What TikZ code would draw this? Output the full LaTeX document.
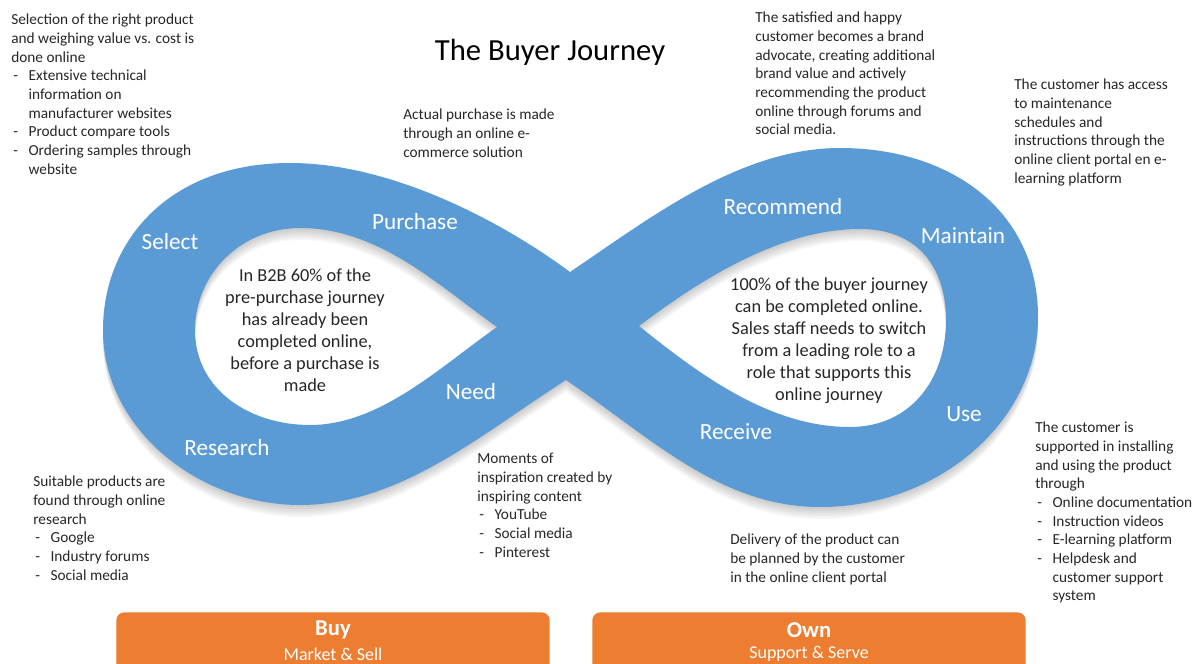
\documentclass[tikz,border=0pt]{standalone}
\usepackage{fontspec}
\setmainfont{Carlito}

\definecolor{loopblue}{HTML}{5B9BD5}
\definecolor{phaseorange}{HTML}{ED7D31}
\definecolor{notegray}{HTML}{262626}

% dash bullets of the side notes
\newcommand{\dashitem}{\makebox[13pt][l]{\hspace{1.5pt}-}}
\newcommand{\dashgap}{\hspace*{13pt}}

% the figure-eight band, in pixel units
\newcommand{\infinitypath}{
  (570,272) .. controls (500,220) and (390,163) .. (290,163)
  .. controls (170,163) and (103,240) .. (103,330)
  .. controls (103,430) and (200,505) .. (300,505)
  .. controls (400,505) and (480,435) .. (566,380)
  .. controls (650,437) and (720,507) .. (820,507)
  .. controls (940,507) and (1038,420) .. (1038,317)
  .. controls (1038,210) and (950,148) .. (840,148)
  .. controls (740,148) and (650,218) .. (570,272) -- cycle
  (497,327) .. controls (440,287) and (380,228) .. (300,228)
  .. controls (240,228) and (195,275) .. (195,330)
  .. controls (195,390) and (250,425) .. (310,425)
  .. controls (380,425) and (440,367) .. (497,327) -- cycle
  (639,326) .. controls (700,280) and (780,229) .. (860,229)
  .. controls (920,229) and (946,270) .. (946,320)
  .. controls (946,380) and (910,427) .. (850,427)
  .. controls (770,427) and (700,375) .. (639,326) -- cycle
}

\tikzset{
  note/.style={anchor=north west, inner sep=0pt, align=left, text=notegray,
    font=\fontsize{11.5}{14}\selectfont},
  stage/.style={text=white, inner sep=0pt, font=\fontsize{17.4}{20}\selectfont},
  insight/.style={anchor=north, inner sep=0pt, align=center, text=notegray,
    font=\fontsize{13.75}{16.5}\selectfont},
  phasebox/.style={fill=phaseorange, rounded corners=6pt, inner sep=0pt,
    minimum width=325pt, minimum height=58pt},
  phasehead/.style={text=white, inner sep=0pt, font=\bfseries\fontsize{17}{20}\selectfont},
  phasesub/.style={text=white, inner sep=0pt, font=\fontsize{13.5}{16}\selectfont}
}

\begin{document}
\begin{tikzpicture}[x=0.75pt, y=-0.75pt]
    \useasboundingbox (0,0) rectangle (1200,664);

    % Title
    \node[font=\fontsize{23}{28}\selectfont] (title) at (550,52) {The Buyer Journey};

    % Soft shadow under the loop
    \foreach \s in {1.5,3,...,9} {
      \fill[black, opacity=0.035, even odd rule, yshift=-\s pt] \infinitypath;
    }
    % The loop itself
    \fill[loopblue, even odd rule] \infinitypath;

    % Stage labels on the band
    \node[stage] (select)    at (170,242) {Select};
    \node[stage] (purchase)  at (415,222) {Purchase};
    \node[stage] (need)      at (471,392) {Need};
    \node[stage] (research)  at (227,448) {Research};
    \node[stage] (recommend) at (783,207) {Recommend};
    \node[stage] (maintain)  at (963,236) {Maintain};
    \node[stage] (use)       at (964,414) {Use};
    \node[stage] (receive)   at (736,432) {Receive};

    % Texts inside the two holes
    \node[insight] (insightbuy) at (305,268) {In B2B 60\% of the\\pre-purchase journey\\has already been\\completed online,\\before a purchase is\\made};
    \node[insight] (insightown) at (829,277) {100\% of the buyer journey\\can be completed online.\\Sales staff needs to switch\\from a leading role to a\\role that supports this\\online journey};

    % Notes round the loop
    \node[note] (noteselect) at (11,14) {Selection of the right product\\and weighing value vs. cost is\\done online\\\dashitem Extensive technical\\\dashgap information on\\\dashgap manufacturer websites\\\dashitem Product compare tools\\\dashitem Ordering samples through\\\dashgap website};
    \node[note] (notepurchase) at (403,109) {Actual purchase is made\\through an online e-\\commerce solution};
    \node[note] (noterecommend) at (755,12) {The satisfied and happy\\customer becomes a brand\\advocate, creating additional\\brand value and actively\\recommending the product\\online through forums and\\social media.};
    \node[note] (notemaintain) at (1014,79) {The customer has access\\to maintenance\\schedules and\\instructions through the\\online client portal en e-\\learning platform};
    \node[note] (noteresearch) at (33,476) {Suitable products are\\found through online\\research\\\dashitem Google\\\dashitem Industry forums\\\dashitem Social media};
    \node[note] (noteneed) at (477,453) {Moments of\\inspiration created by\\inspiring content\\\dashitem YouTube\\\dashitem Social media\\\dashitem Pinterest};
    \node[note] (notereceive) at (730,534) {Delivery of the product can\\be planned by the customer\\in the online client portal};
    \node[note] (noteuse) at (1035,422) {The customer is\\supported in installing\\and using the product\\through\\\dashitem Online documentation\\\dashitem Instruction videos\\\dashitem E-learning platform\\\dashitem Helpdesk and\\\dashgap customer support\\\dashgap system};

    % Buy / Own phases, cut by the lower edge
    \begin{scope}
      \clip (0,0) rectangle (1200,664);
      \node[phasebox] (buy) at (333,651) {};
      \node[phasebox] (own) at (809,651) {};
    \end{scope}
    \node[phasehead] (buyhead) at (333,630) {Buy};
    \node[phasesub]  (buysub)  at (333,654) {Market \& Sell};
    \node[phasehead] (ownhead) at (809,630) {Own};
    \node[phasesub]  (ownsub)  at (809,654) {Support \& Serve};
\end{tikzpicture}
\end{document}
